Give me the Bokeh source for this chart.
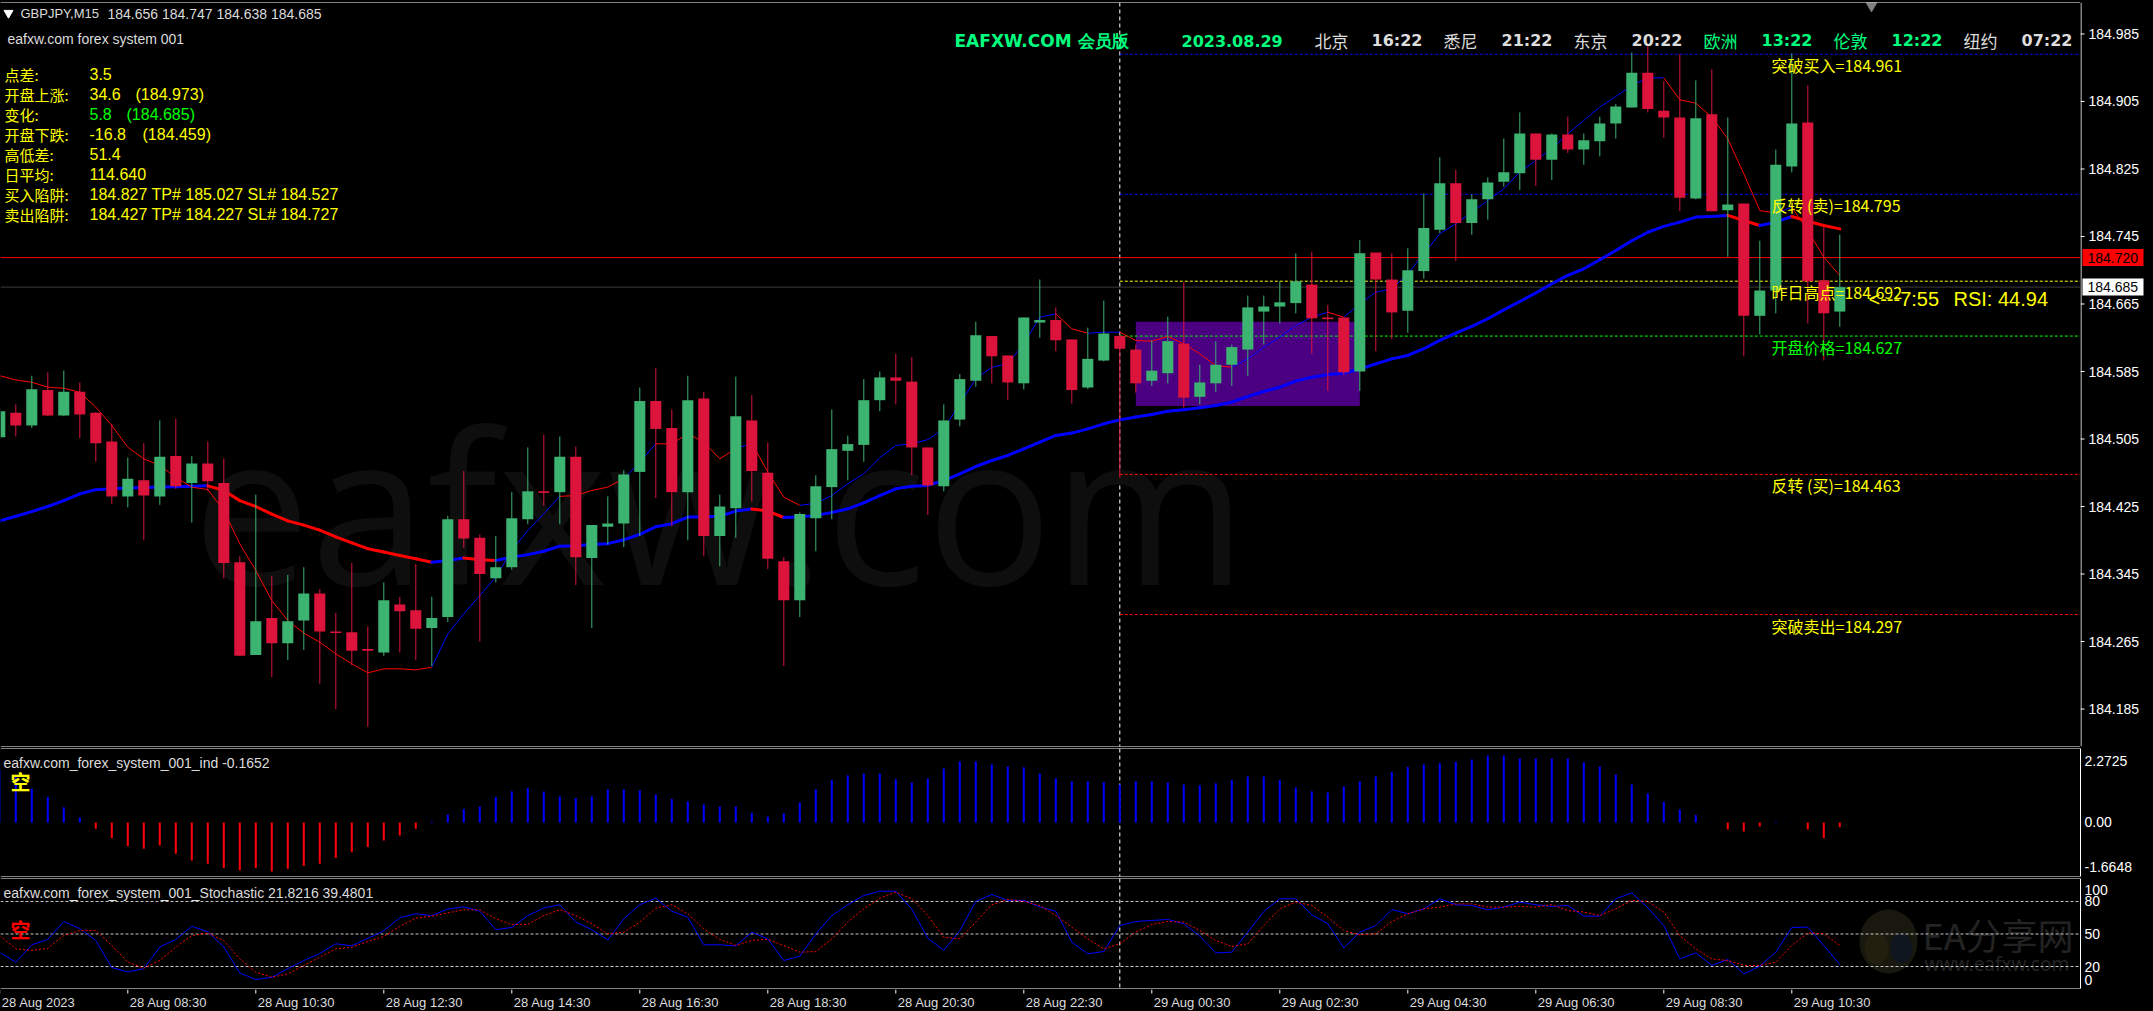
from bokeh.plotting import figure
from bokeh.layouts import column, row
from bokeh.models import (Range1d, FixedTicker, CustomJSTickFormatter, Span, Label)
from bokeh.core.properties import value
from bokeh.embed import file_html
from bokeh.resources import INLINE

# ======================= data =======================
symbol = "GBPJPY,M15"

opens = [
    184.507, 184.536, 184.521, 184.563, 184.533, 184.561, 184.536, 184.502, 184.437, 184.456,
    184.437, 184.485, 184.453, 184.476, 184.453, 184.359, 184.249, 184.293, 184.263, 184.290,
    184.322, 184.277, 184.276, 184.256, 184.252, 184.309, 184.302, 184.281, 184.294, 184.410,
    184.388, 184.340, 184.353, 184.410, 184.443, 184.442, 184.484, 184.364, 184.401, 184.405,
    184.466, 184.550, 184.518, 184.442, 184.553, 184.390, 184.423, 184.527, 184.465, 184.360,
    184.314, 184.411, 184.448, 184.491, 184.498, 184.551, 184.578, 184.573, 184.495, 184.449,
    184.528, 184.574, 184.627, 184.604, 184.571, 184.643, 184.646, 184.623, 184.566, 184.598,
    184.627, 184.611, 184.574, 184.583, 184.618, 184.555, 184.571, 184.593, 184.611, 184.656,
    184.662, 184.666, 184.688, 184.649, 184.649, 184.585, 184.726, 184.694, 184.657, 184.704,
    184.753, 184.808, 184.761, 184.789, 184.810, 184.820, 184.867, 184.836, 184.866, 184.848,
    184.858, 184.879, 184.898, 184.939, 184.894, 184.886, 184.790, 184.890, 184.776, 184.784,
    184.651, 184.681, 184.828, 184.880, 184.693, 184.656]

highs = [
    184.541, 184.546, 184.580, 184.584, 184.586, 184.572, 184.537, 184.523, 184.483, 184.500,
    184.527, 184.529, 184.485, 184.502, 184.482, 184.366, 184.439, 184.343, 184.344, 184.353,
    184.327, 184.299, 184.358, 184.283, 184.335, 184.318, 184.357, 184.318, 184.414, 184.467,
    184.392, 184.390, 184.442, 184.495, 184.510, 184.508, 184.496, 184.403, 184.437, 184.468,
    184.566, 184.589, 184.540, 184.580, 184.561, 184.439, 184.579, 184.557, 184.501, 184.365,
    184.418, 184.462, 184.540, 184.509, 184.576, 184.585, 184.606, 184.602, 184.495, 184.546,
    184.582, 184.644, 184.627, 184.604, 184.649, 184.694, 184.661, 184.623, 184.637, 184.669,
    184.629, 184.617, 184.622, 184.650, 184.691, 184.593, 184.621, 184.617, 184.675, 184.675,
    184.692, 184.725, 184.727, 184.664, 184.649, 184.741, 184.726, 184.725, 184.731, 184.796,
    184.839, 184.824, 184.795, 184.815, 184.861, 184.892, 184.867, 184.867, 184.887, 184.867,
    184.887, 184.902, 184.963, 184.973, 184.929, 184.961, 184.930, 184.943, 184.886, 184.784,
    184.740, 184.848, 184.962, 184.924, 184.756, 184.747]

lows = [
    184.505, 184.508, 184.518, 184.532, 184.532, 184.506, 184.478, 184.428, 184.424, 184.385,
    184.427, 184.446, 184.406, 184.443, 184.340, 184.248, 184.249, 184.223, 184.243, 184.255,
    184.215, 184.185, 184.237, 184.164, 184.248, 184.252, 184.243, 184.236, 184.288, 184.376,
    184.265, 184.335, 184.350, 184.404, 184.426, 184.404, 184.332, 184.281, 184.380, 184.377,
    184.390, 184.435, 184.402, 184.385, 184.366, 184.354, 184.388, 184.431, 184.351, 184.236,
    184.294, 184.372, 184.410, 184.456, 184.478, 184.538, 184.546, 184.462, 184.415, 184.443,
    184.520, 184.567, 184.571, 184.551, 184.564, 184.625, 184.609, 184.547, 184.564, 184.597,
    184.459, 184.560, 184.568, 184.571, 184.542, 184.546, 184.561, 184.568, 184.580, 184.617,
    184.642, 184.654, 184.606, 184.562, 184.581, 184.562, 184.609, 184.623, 184.631, 184.695,
    184.749, 184.716, 184.747, 184.765, 184.804, 184.800, 184.805, 184.812, 184.844, 184.830,
    184.840, 184.861, 184.898, 184.892, 184.862, 184.775, 184.789, 184.775, 184.721, 184.603,
    184.629, 184.654, 184.821, 184.642, 184.598, 184.638]

closes = [
    184.538, 184.521, 184.564, 184.533, 184.561, 184.534, 184.500, 184.437, 184.458, 184.438,
    184.484, 184.449, 184.476, 184.455, 184.358, 184.248, 184.289, 184.263, 184.289, 184.322,
    184.277, 184.275, 184.254, 184.254, 184.314, 184.301, 184.280, 184.293, 184.410, 184.387,
    184.345, 184.353, 184.411, 184.443, 184.441, 184.484, 184.365, 184.403, 184.405, 184.463,
    184.550, 184.517, 184.442, 184.551, 184.390, 184.425, 184.532, 184.467, 184.363, 184.314,
    184.416, 184.449, 184.493, 184.499, 184.551, 184.578, 184.574, 184.495, 184.450, 184.527,
    184.576, 184.628, 184.603, 184.572, 184.649, 184.646, 184.622, 184.563, 184.600, 184.630,
    184.612, 184.571, 184.586, 184.621, 184.554, 184.572, 184.593, 184.614, 184.661, 184.662,
    184.667, 184.692, 184.648, 184.647, 184.584, 184.725, 184.694, 184.655, 184.705, 184.755,
    184.808, 184.761, 184.789, 184.809, 184.821, 184.867, 184.836, 184.866, 184.848, 184.859,
    184.879, 184.899, 184.939, 184.896, 184.886, 184.791, 184.885, 184.775, 184.783, 184.651,
    184.681, 184.830, 184.879, 184.692, 184.654, 184.685]

# slow moving average (thick line)
ma_slow = [
    184.408, 184.4135, 184.419, 184.425, 184.432, 184.440, 184.445, 184.446, 184.447, 184.4475,
    184.448, 184.4485, 184.449, 184.4495, 184.444, 184.432, 184.425, 184.416, 184.408, 184.403,
    184.397, 184.389, 184.382, 184.375, 184.371, 184.367, 184.363, 184.359, 184.361, 184.364,
    184.362, 184.361, 184.365, 184.368, 184.372, 184.378, 184.3785, 184.380, 184.381, 184.3856,
    184.392, 184.401, 184.4046, 184.4125, 184.413, 184.4135, 184.4196, 184.422, 184.4196, 184.412,
    184.4125, 184.4145, 184.418, 184.4223, 184.4294, 184.438, 184.446, 184.449, 184.450, 184.4558,
    184.4637, 184.4724, 184.4795, 184.4855, 184.4934, 184.5013, 184.5092, 184.512, 184.517, 184.523,
    184.5277, 184.531, 184.534, 184.538, 184.5396, 184.542, 184.5447, 184.5487, 184.5554, 184.5613,
    184.5664, 184.5736, 184.5783, 184.5815, 184.583, 184.588, 184.594, 184.600, 184.604, 184.612,
    184.6218, 184.6305, 184.6384, 184.6475, 184.658, 184.668, 184.678, 184.689, 184.699, 184.7067,
    184.7174, 184.7284, 184.740, 184.750, 184.757, 184.762, 184.768, 184.7687, 184.770, 184.764,
    184.758, 184.762, 184.7687, 184.763, 184.758, 184.754]

# fast moving average (thin line) and its up(1)/down(0) state
ma_fast = [
    184.580, 184.575, 184.5723, 184.5664, 184.5652, 184.5605, 184.5427, 184.521, 184.4953, 184.4815,
    184.4736, 184.4597, 184.4479, 184.4451, 184.4202, 184.3808, 184.3491, 184.3136, 184.2899, 184.2749,
    184.2642, 184.2504, 184.2386, 184.2279, 184.2326, 184.2326, 184.2314, 184.2346, 184.2741, 184.2978,
    184.3195, 184.3413, 184.373, 184.3966, 184.4164, 184.437, 184.438, 184.444, 184.448, 184.458,
    184.4776, 184.4993, 184.4993, 184.5112, 184.5013, 184.4816, 184.4934, 184.5001, 184.4658, 184.4361,
    184.4263, 184.429, 184.438, 184.452, 184.4638, 184.4828, 184.4974, 184.4993, 184.5043, 184.517,
    184.5467, 184.5763, 184.5901, 184.5941, 184.6178, 184.6494, 184.6533, 184.6356, 184.6304, 184.6316,
    184.6316, 184.6217, 184.621, 184.6265, 184.6178, 184.6059, 184.5921, 184.5901, 184.600, 184.6138,
    184.6257, 184.6395, 184.6494, 184.6553, 184.6494, 184.6652, 184.679, 184.683, 184.7008, 184.7245,
    184.7482, 184.760, 184.7739, 184.7877, 184.8015, 184.8213, 184.8351, 184.8489, 184.8667, 184.8825,
    184.8983, 184.9109, 184.924, 184.933, 184.933, 184.907, 184.903, 184.8864, 184.8608, 184.8193,
    184.7758, 184.7727, 184.7798, 184.7521, 184.7205, 184.6988]
fast_trend = ("0000000000000000000000000000" "11111111" "0000" "11" "00000" "1" "000"
              "1111111111111111" "00" "11" "0000000" "111111" "0" "11111111111111111111"
              "0000000" "1" "000")

# histogram indicator (eafxw.com_forex_system_001_ind)
ind_hist = [
    1.80, 1.60, 1.14, 0.86, 0.52, 0.18, -0.21, -0.53, -0.80, -0.89,
    -0.78, -1.06, -1.29, -1.40, -1.55, -1.62, -1.55, -1.6648, -1.57, -1.48,
    -1.40, -1.21, -1.01, -0.83, -0.61, -0.44, -0.21, 0.03, 0.27, 0.46,
    0.54, 0.86, 1.06, 1.17, 1.05, 0.88, 0.83, 0.88, 1.13, 1.13,
    1.09, 0.95, 0.80, 0.71, 0.61, 0.54, 0.54, 0.33, 0.20, 0.31,
    0.68, 1.13, 1.44, 1.60, 1.66, 1.66, 1.47, 1.36, 1.49, 1.83,
    2.07, 2.07, 1.97, 1.90, 1.87, 1.66, 1.50, 1.40, 1.40, 1.37,
    1.29, 1.40, 1.40, 1.36, 1.29, 1.26, 1.33, 1.44, 1.56, 1.56,
    1.44, 1.19, 1.06, 1.02, 1.22, 1.40, 1.56, 1.71, 1.88, 1.97,
    2.01, 2.05, 2.14, 2.2725, 2.27, 2.17, 2.17, 2.17, 2.17, 2.04,
    1.90, 1.63, 1.29, 0.98, 0.69, 0.44, 0.25, 0.01, -0.24, -0.31,
    -0.14, 0.02, 0.01, -0.24, -0.53, -0.1652]

# stochastic main (%K) and signal (%D)
stoch_k = [
    33, 24, 40, 45, 61.5, 55, 44, 19, 15, 18,
    38, 45, 57, 52, 38, 14, 8, 10, 18, 25.5,
    32, 41, 39, 46, 53, 65, 68.6, 67, 73, 75,
    71, 54, 56, 67, 74, 77, 61, 54, 44.6, 64,
    77, 83, 71, 65.5, 40, 40, 39, 51.7, 45.5, 25.5,
    29.5, 50, 67, 77, 85.5, 89.5, 89.5, 73, 46, 35,
    53, 80, 86.5, 81, 81, 75, 71, 42.5, 31.7, 33.8,
    57.8, 61.5, 62.5, 63.4, 59.4, 48, 32.6, 33.2, 51.7, 70.8,
    82.5, 82.5, 67.7, 59.4, 37.2, 51.7, 57.8, 72.6, 68.6, 73.2,
    82.5, 77, 76.3, 72.3, 74.8, 79.4, 77, 75.4, 76.3, 66.5,
    66.5, 82.5, 88, 74.2, 57.8, 27, 32.6, 21, 26.5, 13.2,
    20.3, 33.2, 56, 56.3, 39.4, 21.8216]
stoch_d = [
    48.6, 36.3, 34.8, 36.9, 48.6, 53.2, 53.2, 39.4, 24, 18.5,
    25.5, 37.8, 48.6, 50.8, 44, 27, 14.8, 10.2, 13.2, 21,
    28.6, 36.3, 37.8, 43, 47.7, 57, 64.6, 66.5, 69.5, 72.3,
    72.3, 64, 58.8, 58.8, 67, 72.3, 67, 59.4, 50.2, 51.7,
    61, 73.8, 77, 68.6, 54.8, 45, 39.4, 44, 45, 39.4,
    33.2, 33.8, 45.5, 61, 73.2, 83, 88.6, 82.5, 67, 47,
    45.5, 61, 77, 81.8, 80, 76.3, 67, 56.3, 45.5, 36.3,
    41, 51.7, 58.8, 61.5, 61, 53.2, 44, 38.5, 41, 57.8,
    73.2, 79.4, 76.3, 65.5, 53.2, 49.2, 50.2, 61.5, 68.6, 73.2,
    74.8, 77.8, 77.8, 74.8, 74.8, 75.4, 74.8, 77, 71.7, 70.2,
    67, 73.2, 81, 80, 70.2, 48.6, 36.3, 27, 25.5, 21,
    21, 24, 39.4, 51, 50.2, 39.4801]
stoch_levels = [20, 50, 80]

price_ticks = [184.185, 184.265, 184.345, 184.425, 184.505, 184.585,
               184.665, 184.745, 184.825, 184.905, 184.985]
time_tick_idx = [0, 8, 16, 24, 32, 40, 48, 56, 64, 72, 80, 88, 96, 104, 112]
time_tick_labels = ["28 Aug 2023", "28 Aug 08:30", "28 Aug 10:30", "28 Aug 12:30",
                    "28 Aug 14:30", "28 Aug 16:30", "28 Aug 18:30", "28 Aug 20:30",
                    "28 Aug 22:30", "29 Aug 00:30", "29 Aug 02:30", "29 Aug 04:30",
                    "29 Aug 06:30", "29 Aug 08:30", "29 Aug 10:30"]

day_start_idx = 70
level_values = [184.961, 184.795, 184.692, 184.627, 184.463, 184.297]
level_names = ["突破买入", "反转 (卖)", "昨日高点", "开盘价格", "反转 (买)", "突破卖出"]
box_start_idx, box_end_idx = 71, 85
box_low, box_high = 184.544, 184.644
alert_price = 184.720

info_labels = ["点差:", "开盘上涨:", "变化:", "开盘下跌:", "高低差:", "日平均:", "买入陷阱:", "卖出陷阱:"]
info_values = ["3.5", "34.6", "5.8", "-16.8", "51.4", "114.640",
               "184.827 TP# 185.027 SL# 184.527", "184.427 TP# 184.227 SL# 184.727"]
info_extra = {1: "(184.973)", 2: "(184.685)", 3: "(184.459)"}

clock_texts = ["北京", "16:22", "悉尼", "21:22", "东京", "20:22",
               "欧洲", "13:22", "伦敦", "12:22", "纽约", "07:22"]
clock_date = "2023.08.29"
brand = "EAFXW.COM 会员版"
countdown = "<---7:55"
rsi_text = "RSI: 44.94"

N = len(closes)
assert len(opens) == len(highs) == len(lows) == N == 116
assert len(ma_slow) == len(ma_fast) == len(fast_trend) == len(ind_hist) == N
assert len(stoch_k) == len(stoch_d) == N
idx = list(range(N))

# ======================= layout / style =======================
W = 2153
AXIS_W = 73
FRAME_W = W - AXIS_W
BAR_PX = 16.0
X_LO = 0.04375
X_HI = X_LO + FRAME_W / BAR_PX


def bx(px):
    return X_LO + px / BAR_PX


MAIN_H, MAIN_TOP, MAIN_FH = 747, 2, 744
M_LO, M_HI = 184.1406, 185.0223
P1_H, P1_TOP, P1_FH = 130, 748, 128
P1_LO, P1_HI = -1.8345, 2.510
P2_H, P2_TOP, P2_FH = 112, 878, 110
P2_LO, P2_HI = -0.3, 101.2
T_H = 22
M_PX = (M_HI - M_LO) / MAIN_FH      # price per pixel in the main panel


def my(py):
    return M_HI - (py - MAIN_TOP) * M_PX


def p1y(py):
    return P1_HI - (py - P1_TOP) * (P1_HI - P1_LO) / P1_FH


def p2y(py):
    return P2_HI - (py - P2_TOP) * (P2_HI - P2_LO) / P2_FH


BULL, BEAR = "#3CB371", "#DC143C"
BLUE, RED = "#0000FF", "#FF0000"
YELLOW, LIME, SPRING, LIGHT = "#FFFF00", "#00FF00", "#00FF7F", "#DCDCDC"
LATIN, CJK = "Liberation Sans", "Noto Sans CJK SC"

xr = Range1d(X_LO, X_HI)


def make_fig(h, yr, top, bottom, yaxis=True, width=W, border_right=AXIS_W, x_range=None):
    f = figure(width=width, height=h, x_range=x_range if x_range is not None else xr,
               y_range=yr, output_backend="svg",
               toolbar_location=None, min_border_left=0, min_border_right=border_right,
               min_border_top=top, min_border_bottom=bottom,
               x_axis_location=None, y_axis_location="right" if yaxis else None,
               background_fill_color="black", border_fill_color="black",
               outline_line_color=None)
    f.xgrid.grid_line_color = None
    f.ygrid.grid_line_color = None
    return f


def style_axis(ax):
    ax.axis_line_color = "white"
    ax.major_tick_out = 0
    ax.major_tick_in = 0
    ax.major_tick_line_color = None
    ax.minor_tick_line_color = None
    ax.major_label_text_color = "white"
    ax.major_label_text_font = LATIN
    ax.major_label_text_font_size = "14px"
    ax.major_label_standoff = 4


def label_formatter(tick_vals, tick_texts):
    return CustomJSTickFormatter(args=dict(tv=tick_vals, tt=tick_texts), code="""
        for (let i = 0; i < tv.length; i++) {
            if (Math.abs(tv[i] - tick) < 1e-6) { return tt[i]; }
        }
        return "";
    """)


def txt(f, x, y, text, color, font, size, bold=False, align="left", y_offset=0):
    f.text(x=x, y=y, text=text, text_color=color, text_font=value(font),
           text_font_size=size, text_font_style="bold" if bold else "normal",
           text_align=align, text_baseline="middle", y_offset=y_offset)


# ----------------------------- main chart -----------------------------
main_yr = Range1d(M_LO, M_HI)
pm = make_fig(MAIN_H, main_yr, MAIN_TOP, 1, yaxis=False, width=FRAME_W, border_right=0)
for loc in (M_LO, M_HI):
    pm.add_layout(Span(location=loc, dimension="width", line_color="white", line_width=1))
pm.add_layout(Span(location=day_start_idx, dimension="height", line_color="white",
                   line_dash="4 3", line_width=1, level="underlay"))

# faint watermark
pm.text(x=[bx(192)], y=[my(503)], text=["eafxw.com"], text_color="#0e0e0e",
        text_font=value("Open Sans"), text_font_size="210px",
        text_align="left", text_baseline="alphabetic")

# session box
pm.quad(left=[box_start_idx], right=[box_end_idx], bottom=[box_low], top=[box_high],
        fill_color="#4B0082", line_color=None)

# full-width horizontal lines: alert line and bid line
pm.segment(x0=[X_LO, X_LO], x1=[X_HI, X_HI], y0=[alert_price, closes[-1]],
           y1=[alert_price, closes[-1]], line_color=[RED, "#3C3C3C"], line_width=1)

# daily levels
level_line_colors = [BLUE, BLUE, YELLOW, LIME, RED, RED]
level_text_colors = [YELLOW, YELLOW, YELLOW, LIME, YELLOW, YELLOW]
pm.segment(x0=[day_start_idx] * len(level_values), x1=[X_HI] * len(level_values),
           y0=level_values, y1=level_values, line_color=level_line_colors,
           line_dash="3 2", line_width=1)

# moving averages
slow_cols = [BLUE if ma_slow[i + 1] >= ma_slow[i] else RED for i in range(N - 1)]
pm.segment(x0=idx[:-1], x1=idx[1:], y0=ma_slow[:-1], y1=ma_slow[1:],
           line_color=slow_cols, line_width=3, line_cap="round")
fast_cols = [BLUE if fast_trend[i + 1] == "1" else RED for i in range(N - 1)]
pm.segment(x0=idx[:-1], x1=idx[1:], y0=ma_fast[:-1], y1=ma_fast[1:],
           line_color=fast_cols, line_width=1)

# candles
ccol = [BULL if c >= o else BEAR for o, c in zip(opens, closes)]
pm.segment(x0=idx, x1=idx, y0=lows, y1=highs, line_color=ccol, line_width=1)
pm.vbar(x=idx, width=0.69, top=[max(o, c) for o, c in zip(opens, closes)],
        bottom=[min(o, c) for o, c in zip(opens, closes)], fill_color=ccol, line_color=None)

# level labels
txt(pm, [bx(1771)] * len(level_values), level_values,
    [f"{n}={v:.3f}" for n, v in zip(level_names, level_values)],
    level_text_colors, CJK, "16px", y_offset=11)

# header texts
pm.scatter(x=[bx(8)], y=[my(12.5)], marker="inverted_triangle", size=9,
           fill_color="white", line_color="white")
txt(pm, [bx(20)], [my(13)], [symbol], LIGHT, LATIN, "13px")
txt(pm, [bx(107)], [my(13)],
    [f"{opens[-1]:.3f} {highs[-1]:.3f} {lows[-1]:.3f} {closes[-1]:.3f}"], LIGHT, LATIN, "14px")
txt(pm, [bx(7)], [my(38)], ["eafxw.com forex system 001"], LIGHT, LATIN, "14px")

rows_y = [my(73.5 + 20 * k) for k in range(len(info_labels))]
txt(pm, [bx(4)] * len(info_labels), rows_y, info_labels, YELLOW, CJK, "15px")
val_cols = [LIME if k == 2 else YELLOW for k in range(len(info_values))]
txt(pm, [bx(89)] * len(info_values), rows_y, info_values, val_cols, LATIN, "16px")
extra_x = {1: 135, 2: 126, 3: 142}
txt(pm, [bx(extra_x[k]) for k in info_extra], [rows_y[k] for k in info_extra],
    list(info_extra.values()), [LIME if k == 2 else YELLOW for k in info_extra], LATIN, "16px")

# top clock row
txt(pm, [bx(954)], [my(40)], [brand], [SPRING], "DejaVu Sans", "17px", bold=True)
txt(pm, [bx(1181)], [my(40)], [clock_date], [SPRING], "DejaVu Sans", "16px", bold=True)
clock_x = [1314, 1371, 1443, 1501, 1573, 1631, 1703, 1761, 1833, 1891, 1963, 2021]
clock_col = [LIGHT, LIGHT, LIGHT, LIGHT, LIGHT, LIGHT, SPRING, SPRING, SPRING, SPRING, LIGHT, LIGHT]
names = [k for k in range(len(clock_texts)) if k % 2 == 0]
times = [k for k in range(len(clock_texts)) if k % 2 == 1]
txt(pm, [bx(clock_x[k]) for k in names], [my(40)] * len(names),
    [clock_texts[k] for k in names], [clock_col[k] for k in names], CJK, "17px")
txt(pm, [bx(clock_x[k]) for k in times], [my(40)] * len(times),
    [clock_texts[k] for k in times], [clock_col[k] for k in times], "DejaVu Sans", "16px", bold=True)
pm.scatter(x=[bx(1871)], y=[my(5)], marker="inverted_triangle", size=11,
           fill_color="#808080", line_color="#808080")

# countdown / RSI
txt(pm, [bx(1868)], [my(298)], [countdown], [YELLOW], LATIN, "20px")
txt(pm, [bx(1953)], [my(298)], [rsi_text], [YELLOW], LATIN, "20px")

# ------------- price scale strip (shares the main price range) -------------
ps = make_fig(MAIN_H, main_yr, MAIN_TOP, 1, yaxis=False, width=AXIS_W, border_right=0,
              x_range=Range1d(0, AXIS_W))
ps.segment(x0=[0.5], x1=[0.5], y0=[M_LO], y1=[M_HI], line_color="white", line_width=1)
ps.segment(x0=[0] * len(price_ticks), x1=[4] * len(price_ticks), y0=price_ticks,
           y1=price_ticks, line_color="white", line_width=1)
ps.text(x=[8] * len(price_ticks), y=price_ticks, text=[f"{t:.3f}" for t in price_ticks],
        text_color="white", text_font=value(LATIN), text_font_size="14px",
        text_align="left", text_baseline="middle")
box_prices = [alert_price, closes[-1]]
half_box = 8.5 * M_PX
ps.quad(left=[2, 2], right=[63, 63], bottom=[p - half_box for p in box_prices],
        top=[p + half_box for p in box_prices], fill_color=[RED, "white"], line_color=None)
ps.text(x=[7, 7], y=box_prices, text=[f"{p:.3f}" for p in box_prices],
        text_color="black", text_font=value(LATIN), text_font_size="14px",
        text_align="left", text_baseline="middle")

# ----------------------------- indicator panel -----------------------------
p1 = make_fig(P1_H, Range1d(P1_LO, P1_HI), 1, 1)
ax1 = p1.yaxis[0]
style_axis(ax1)
h_min, h_max = min(ind_hist), max(ind_hist)
h_label_pos = [p1y(866), 0.0, p1y(760)]       # MT4 keeps the end labels inside the window
ax1.ticker = FixedTicker(ticks=h_label_pos)
ax1.formatter = label_formatter(h_label_pos, [f"{h_min:.4f}", "0.00", f"{h_max:.4f}"])
for loc in (P1_LO, P1_HI):
    p1.add_layout(Span(location=loc, dimension="width", line_color="white", line_width=1))
p1.add_layout(Span(location=day_start_idx, dimension="height", line_color="white",
                   line_dash="4 3", line_width=1, level="underlay"))
p1.segment(x0=idx, x1=idx, y0=[0] * N, y1=ind_hist,
           line_color=[BLUE if v >= 0 else RED for v in ind_hist], line_width=2)
txt(p1, [bx(3)], [p1y(762)], [f"eafxw.com_forex_system_001_ind {ind_hist[-1]:.4f}"],
    LIGHT, LATIN, "14px")
txt(p1, [bx(20)], [p1y(781)], ["空"], YELLOW, CJK, "20px", bold=True, align="center")

# ----------------------------- stochastic panel -----------------------------
p2 = make_fig(P2_H, Range1d(P2_LO, P2_HI), 1, 1)
ax2 = p2.yaxis[0]
style_axis(ax2)
s_label_pos = [p2y(979), 20, 50, 80, p2y(889)]   # 0 and 100 kept inside the window
ax2.ticker = FixedTicker(ticks=s_label_pos)
ax2.formatter = label_formatter(s_label_pos, ["0", "20", "50", "80", "100"])
for loc in (P2_LO, P2_HI):
    p2.add_layout(Span(location=loc, dimension="width", line_color="white", line_width=1))
p2.add_layout(Span(location=day_start_idx, dimension="height", line_color="white",
                   line_dash="4 3", line_width=1, level="underlay"))

# faint site logo watermark
p2.ellipse(x=[bx(1888)], y=[p2y(941)], width=58 / BAR_PX, height=64 * (P2_HI - P2_LO) / P2_FH,
           fill_color="#19180f", line_color=None)
p2.ellipse(x=[bx(1876)], y=[p2y(948)], width=24 / BAR_PX, height=32 * (P2_HI - P2_LO) / P2_FH,
           fill_color="#221f0e", line_color=None)
p2.ellipse(x=[bx(1901)], y=[p2y(948)], width=22 / BAR_PX, height=30 * (P2_HI - P2_LO) / P2_FH,
           fill_color="#10161f", line_color=None)
txt(p2, [bx(1922)], [p2y(933)], ["EA分享网"], "#232323", CJK, "36px")
txt(p2, [bx(1924)], [p2y(963)], ["www.eafxw.com"], "#232323", "Noto Sans", "19px")

p2.segment(x0=[X_LO] * 3, x1=[X_HI] * 3, y0=stoch_levels, y1=stoch_levels,
           line_color="#C8C8C8", line_dash="3 2", line_width=1)
p2.line(idx, stoch_k, line_color=BLUE, line_width=1)
p2.line(idx, stoch_d, line_color=RED, line_width=1, line_dash="2 2")
txt(p2, [bx(3)], [p2y(892)],
    [f"eafxw.com_forex_system_001_Stochastic {stoch_k[-1]:.4f} {stoch_d[-1]:.4f}"],
    LIGHT, LATIN, "14px")
txt(p2, [bx(20)], [p2y(929)], ["空"], RED, CJK, "20px", bold=True, align="center")

# ----------------------------- time axis strip -----------------------------
pt = make_fig(T_H, Range1d(0, T_H), 0, 0, yaxis=False)
pt.segment(x0=time_tick_idx, x1=time_tick_idx, y0=[T_H] * len(time_tick_idx),
           y1=[T_H - 4] * len(time_tick_idx), line_color="white", line_width=1)
pt.text(x=time_tick_idx, y=[9.3] * len(time_tick_idx), text=time_tick_labels,
        x_offset=2, text_color=LIGHT, text_font=value(LATIN), text_font_size="13px",
        text_align="left", text_baseline="middle")

layout = column(row(pm, ps, spacing=0), p1, p2, pt, spacing=0)
layout.styles = {"background-color": "black"}

TEMPLATE = """
{% block postamble %}
<style>html, body { margin: 0 !important; padding: 0 !important; background: #000000; overflow: hidden; }</style>
{% endblock %}
"""
try:
    html = file_html(layout, INLINE, title="GBPJPY,M15", template=TEMPLATE)
except Exception:
    html = file_html(layout, INLINE, title="GBPJPY,M15")
open("out.html", "w").write(html)
